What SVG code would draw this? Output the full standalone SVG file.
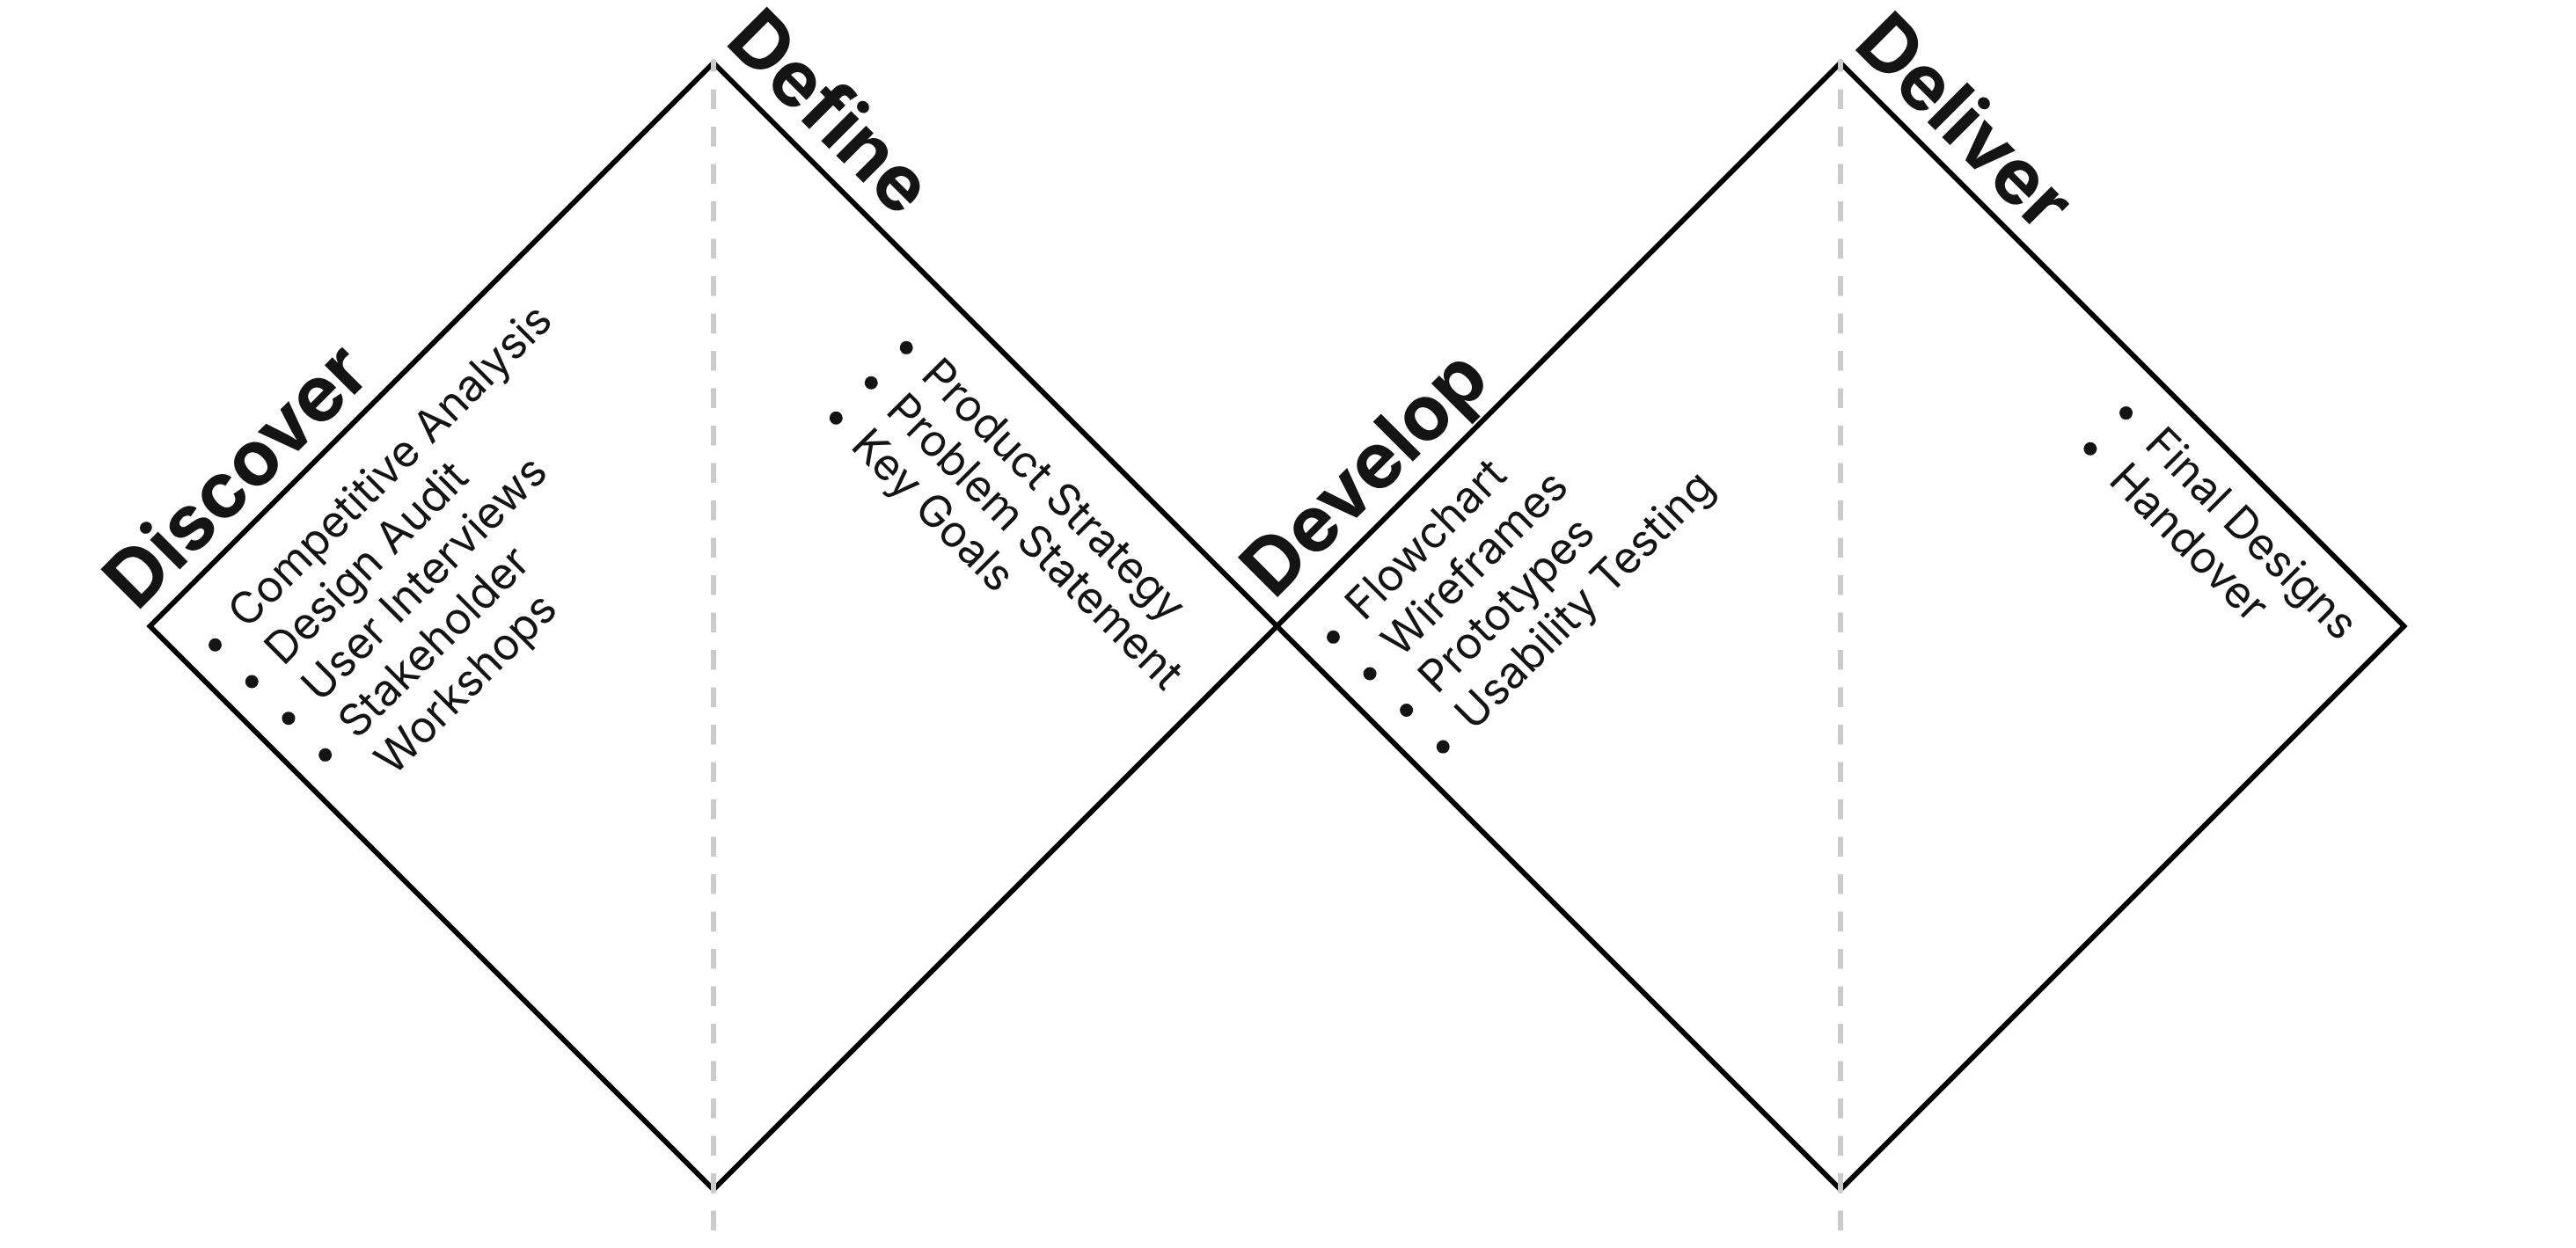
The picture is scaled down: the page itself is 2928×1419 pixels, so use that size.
<svg xmlns="http://www.w3.org/2000/svg" width="2928" height="1419" viewBox="0 0 2928 1419">
<style>
.dia{fill:none;stroke:#000;stroke-width:6;stroke-linejoin:miter}
.guide{stroke:#c8cccf;stroke-width:6;stroke-dasharray:22.5 20;stroke-dashoffset:9}
.head{font-family:Inter,"Liberation Sans",sans-serif;font-weight:700;font-size:88px;fill:#141414}
.item{font-family:Inter,"Liberation Sans",sans-serif;font-weight:400;font-size:50px;fill:#141414}
.dot{fill:#141414}
</style>
<rect width="2928" height="1419" fill="#fff"/>
<g id="diamond-1"><polygon class="dia" points="811,71.5 1451.5,712 811,1352.5 170.5,712"/></g>
<g id="diamond-2"><polygon class="dia" points="2092,71.5 2732.5,712 2092,1352.5 1451.5,712"/></g>
<g id="connectors">
<line class="guide" x1="811" y1="68" x2="811" y2="1419"/>
<line class="guide" x1="2092" y1="68" x2="2092" y2="1419"/>
</g>
<g id="discover" transform="translate(171,712) rotate(-45)">
<text class="head" x="0" y="-22">Discover</text>
<circle class="dot" cx="37" cy="67" r="7.5"/>
<circle class="dot" cx="37" cy="126" r="7.5"/>
<circle class="dot" cx="37" cy="185" r="7.5"/>
<circle class="dot" cx="37" cy="244" r="7.5"/>
<text class="item" x="74" y="80.5">Competitive Analysis</text>
<text class="item" x="74" y="139.5">Design Audit</text>
<text class="item" x="74" y="198.5">User Interviews</text>
<text class="item" x="74" y="257.5">Stakeholder</text>
<text class="item" x="74" y="316.5">Workshops</text>
</g>
<g id="define" transform="translate(811,71.5) rotate(45)">
<text class="head" x="-8" y="-24">Define</text>
<circle class="dot" cx="384" cy="74" r="7.5"/>
<circle class="dot" cx="384" cy="130.5" r="7.5"/>
<circle class="dot" cx="384" cy="187" r="7.5"/>
<text class="item" x="418" y="87">Product Strategy</text>
<text class="item" x="418" y="143.5">Problem Statement</text>
<text class="item" x="418" y="200">Key Goals</text>
</g>
<g id="develop" transform="translate(1451.5,712) rotate(-45)">
<text class="head" x="18" y="-23">Develop</text>
<circle class="dot" cx="36.5" cy="54" r="7.5"/>
<circle class="dot" cx="36.5" cy="112.8" r="7.5"/>
<circle class="dot" cx="36.5" cy="171.6" r="7.5"/>
<circle class="dot" cx="36.5" cy="230.4" r="7.5"/>
<text class="item" x="73" y="66.5">Flowchart</text>
<text class="item" x="73" y="125.3">Wireframes</text>
<text class="item" x="73" y="184.1">Prototypes</text>
<text class="item" x="73" y="242.9">Usability Testing</text>
</g>
<g id="deliver" transform="translate(2092,71.5) rotate(45)">
<text class="head" x="-4" y="-22">Deliver</text>
<circle class="dot" cx="511" cy="52" r="7.5"/>
<circle class="dot" cx="511" cy="109.5" r="7.5"/>
<text class="item" x="551" y="65">Final Designs</text>
<text class="item" x="551" y="122.5">Handover</text>
</g>
</svg>
